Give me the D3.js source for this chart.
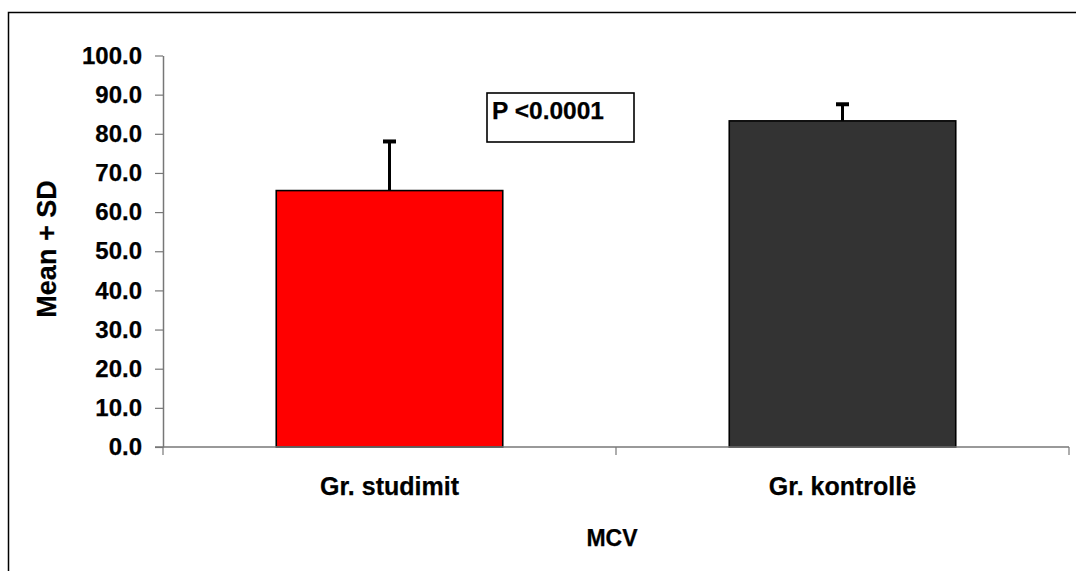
<!DOCTYPE html>
<html>
<head>
<meta charset="utf-8">
<script src="https://cdn.jsdelivr.net/npm/d3@7"></script>
<style>
  html, body { margin: 0; padding: 0; background: #fff; }
  svg { display: block; }
  text { font-family: "Liberation Sans", Arial, sans-serif; font-weight: bold; fill: #000; stroke: #000; stroke-width: 0.25px; }
</style>
</head>
<body>
<svg id="chart" width="1076" height="571"></svg>
<script>
// MCV: group means with one standard deviation
const categories = ["Gr. studimit", "Gr. kontrollë"];
const means = [65.5, 83.3];
const sds = [12.8, 4.5];
const barColors = ["#ff0000", "#333333"];
const yTicks = [0, 10, 20, 30, 40, 50, 60, 70, 80, 90, 100];
const pLabel = "P <0.0001";
const xTitle = "MCV";
const yTitle = "Mean + SD";

const svg = d3.select("#chart");

// outer chart frame
svg.append("rect")
  .attr("x", 8.5).attr("y", 12.5)
  .attr("width", 1100).attr("height", 600)
  .attr("fill", "none").attr("stroke", "#000").attr("stroke-width", 1.5);

const plot = { left: 163, right: 1069, top: 55.5, bottom: 447 };

const x = d3.scaleBand().domain(categories)
  .range([plot.left, plot.right]).paddingInner(0.5).paddingOuter(0.25);
const y = d3.scaleLinear().domain([0, 100]).range([plot.bottom, plot.top]);

// bars
svg.selectAll("rect.bar").data(categories).join("rect")
  .attr("class", "bar")
  .attr("x", d => x(d))
  .attr("width", x.bandwidth())
  .attr("y", (d, i) => y(means[i]))
  .attr("height", (d, i) => y(0) - y(means[i]))
  .attr("fill", (d, i) => barColors[i])
  .attr("stroke", "#000").attr("stroke-width", 1.6);

// error bars (upper side only)
const err = svg.append("g");
categories.forEach((c, i) => {
  const cx = x(c) + x.bandwidth() / 2;
  err.append("line")
    .attr("x1", cx).attr("x2", cx)
    .attr("y1", y(means[i])).attr("y2", y(means[i] + sds[i]))
    .attr("stroke", "#000").attr("stroke-width", 3);
  err.append("line")
    .attr("x1", cx - 6.5).attr("x2", cx + 6.5)
    .attr("y1", y(means[i] + sds[i]) + 1).attr("y2", y(means[i] + sds[i]) + 1)
    .attr("stroke", "#000").attr("stroke-width", 4);
});

// y axis
const yAxis = svg.append("g")
  .attr("transform", `translate(${plot.left},0)`)
  .call(d3.axisLeft(y).tickValues(yTicks).tickFormat(d3.format(".1f"))
    .tickSize(8).tickPadding(13).tickSizeOuter(0));
yAxis.select(".domain").attr("stroke", "#777").attr("stroke-width", 1.5);
yAxis.selectAll(".tick line").attr("stroke", "#777").attr("stroke-width", 1.2);
yAxis.selectAll(".tick text")
  .style("font-size", "24px").style("font-family", "'Liberation Sans', Arial, sans-serif")
  .style("font-weight", "bold").attr("fill", "#000");

// x axis with boundary ticks between categories
const xAxisG = svg.append("g").attr("transform", `translate(0,${plot.bottom})`);
xAxisG.append("line")
  .attr("x1", plot.left - 8).attr("x2", plot.right)
  .attr("stroke", "#777").attr("stroke-width", 1.5);
const step = x.step();
const bounds = d3.range(categories.length + 1).map(k => plot.left + k * step);
xAxisG.selectAll("line.b").data(bounds).join("line")
  .attr("class", "b")
  .attr("x1", d => d).attr("x2", d => d)
  .attr("y1", 0).attr("y2", 8)
  .attr("stroke", "#777").attr("stroke-width", 1.2);
xAxisG.selectAll("text.cat").data(categories).join("text")
  .attr("class", "cat")
  .attr("x", d => x(d) + x.bandwidth() / 2)
  .attr("y", 48)
  .attr("text-anchor", "middle")
  .style("font-size", "25px")
  .text(d => d);

// axis titles
svg.append("text")
  .attr("x", 612).attr("y", 546)
  .attr("text-anchor", "middle")
  .style("font-size", "23px")
  .text(xTitle);
svg.append("text")
  .attr("transform", `translate(56,249) rotate(-90)`)
  .attr("text-anchor", "middle")
  .style("font-size", "27px")
  .text(yTitle);

// significance box
svg.append("rect")
  .attr("x", 487).attr("y", 93)
  .attr("width", 147).attr("height", 49)
  .attr("fill", "#fff").attr("stroke", "#000").attr("stroke-width", 1.6);
svg.append("text")
  .attr("x", 492).attr("y", 119)
  .style("font-size", "24.5px")
  .text(pLabel);
</script>
</body>
</html>
